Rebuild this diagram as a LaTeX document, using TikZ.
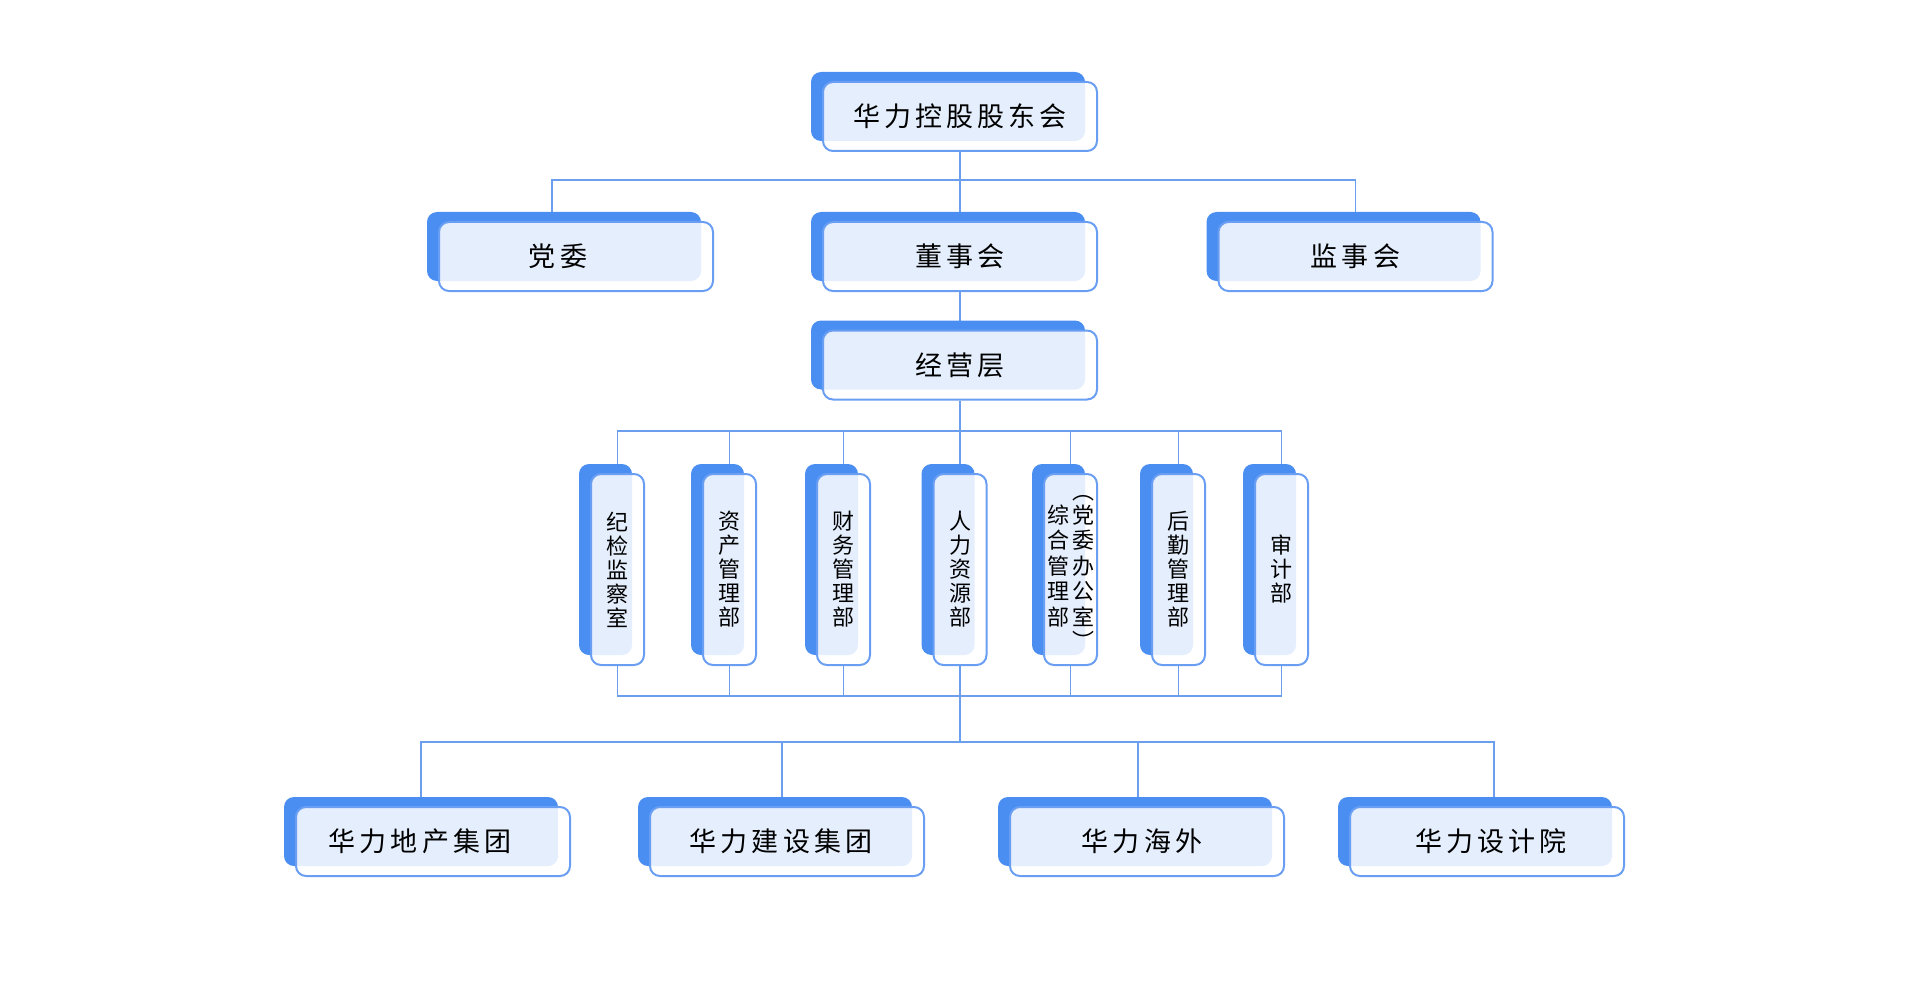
\documentclass[tikz,border=0pt]{standalone}
\usepackage{fontspec}
\setmainfont{Noto Sans CJK SC}[LetterSpace=15]
\newfontfamily\vfont{Noto Sans CJK SC}
\usepackage{xcolor}
\usepackage{tikz}
\usetikzlibrary{backgrounds}
\definecolor{hlBack}{HTML}{4A8EF2}
\definecolor{hlLine}{HTML}{6A9EF2}
\definecolor{hlLink}{HTML}{6C9EEE}
\tikzset{
  card/.style={rectangle,rounded corners=5pt,draw=hlLine,line width=1pt,
    fill=white,fill opacity=0.85,text opacity=1,inner sep=0pt,
    minimum width=137pt,minimum height=34.5pt,align=center,
    font=\fontsize{13.5pt}{16pt}\selectfont,
    preaction={fill=hlBack,draw=none,fill opacity=1,
      transform canvas={xshift=-6pt,yshift=5pt}}},
  vcard/.style={card,minimum width=26.5pt,minimum height=95.5pt,
    font=\vfont\fontsize{11pt}{12pt}\selectfont},
  link/.style={draw=hlLink,line width=0.7pt}
}

\begin{document}
\begin{tikzpicture}[x=0.5pt,y=-0.5pt]
\useasboundingbox (0,0) rectangle (1920,1000);
% top levels
\node[card] (share) at (960,116.5) {华力控股股东会};
\node[card] (party) at (576,256.5) {党委\rule{18pt}{0pt}};
\node[card] (board) at (960,256.5) {董事会};
\node[card] (super) at (1355.5,256.5) {监事会};
\node[card] (mgmt) at (960,365) {经营层};

% departments
\node[vcard] (disc) at (617.5,569.5) {纪\\检\\监\\察\\室};
\node[vcard] (asset) at (729.5,569.5) {资\\产\\管\\理\\部};
\node[vcard] (fin) at (843.5,569.5) {财\\务\\管\\理\\部};
\node[vcard] (hr) at (960,569.5) {人\\力\\资\\源\\部};
\node[vcard] (admin) at (1070.5,569.5) {%
  \begin{tabular}{@{}c@{\hspace{1.5pt}}c@{}}
   & ︵\\[-1pt]
  综 & 党\\ 合 & 委\\ 管 & 办\\ 理 & 公\\ 部 & 室\\[-1pt]
   & ︶
  \end{tabular}};
\node[vcard] (logi) at (1178.5,569.5) {后\\勤\\管\\理\\部};
\node[vcard] (audit) at (1281.5,569.5) {审\\计\\部};

% subsidiaries
\node[card] (estate) at (433,841.5) {华力地产集团\rule{13pt}{0pt}};
\node[card] (build) at (787,841.5) {华力建设集团\rule{6pt}{0pt}};
\node[card] (oversea) at (1147,841.5) {华力海外\rule{5pt}{0pt}};
\node[card] (design) at (1487,841.5) {\rule{4pt}{0pt}华力设计院};

\coordinate (busA) at (960,431);
\coordinate (busB) at (960,696);
\coordinate (busC) at (960,742);

\begin{pgfonlayer}{background}
\draw[link] (share) -- (board);
\draw[link] ([xshift=-12pt]party.north) -- ++(0,-41) -| (super.north);
\draw[link] (board) -- (mgmt);
\draw[link] (mgmt) -- (busA);
\foreach \d in {disc,asset,fin,hr,admin,logi,audit}{
  \draw[link] (busA) -| (\d.north);
  \draw[link] (\d.south) |- (busB);
}
\draw[link] (busB) -- (busC);
\draw[link] (busC) -| ([xshift=-6pt]estate.north);
\draw[link] (busC) -| ([xshift=-2.5pt]build.north);
\draw[link] (busC) -| ([xshift=-4.5pt]oversea.north);
\draw[link] (busC) -| ([xshift=3.5pt]design.north);
\end{pgfonlayer}
\end{tikzpicture}
\end{document}
